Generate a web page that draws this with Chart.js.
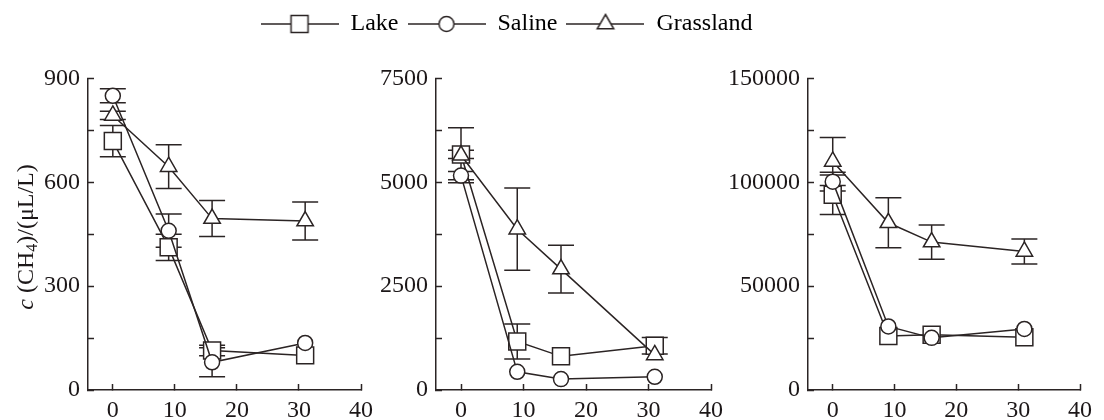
<!DOCTYPE html>
<html>
<head>
<meta charset="utf-8">
<script src="https://cdn.jsdelivr.net/npm/chart.js@4.4.1/dist/chart.umd.min.js"></script>
<style>
  html, body { margin: 0; padding: 0; background: #fff; }
  #wrap { position: relative; width: 1104px; height: 420px; overflow: hidden; }
  .box { position: absolute; }
</style>
</head>
<body>
<div id="wrap">
  <div class="box" style="left:0;top:50px;width:385px;height:370px"><canvas id="p1"></canvas></div>
  <div class="box" style="left:370px;top:50px;width:365px;height:370px"><canvas id="p2"></canvas></div>
  <div class="box" style="left:722px;top:50px;width:382px;height:370px"><canvas id="p3"></canvas></div>
  <div class="box" style="left:0;top:0;width:1013px;height:110px"><canvas id="leg"></canvas></div>
</div>
<script>
// sampling days (x)
const days = [0, 9, 16, 31]
const xTicks = [0, 10, 20, 30, 40]
const seriesNames = ['Lake', 'Saline', 'Grassland']

// left panel
const lake1 = [719, 412, 114, 100]
const lakeErr1 = [45, 38, 15, 0]
const saline1 = [850, 460, 80, 136]
const salineErr1 = [20, 48, 42, 0]
const grass1 = [793, 645, 495, 488]
const grassErr1 = [12, 63, 52, 55]
const yTicks1 = [0, 150, 300, 450, 600, 750, 900]
const yLabels1 = [0, 300, 600, 900]

// middle panel
const lake2 = [5670, 1167, 810, 1064]
const lakeErr2 = [100, 420, 0, 200]
const saline2 = [5160, 437, 262, 317]
const salineErr2 = [100, 0, 0, 0]
const grass2 = [5650, 3870, 2910, 845]
const grassErr2 = [660, 990, 575, 0]
const yTicks2 = [0, 1250, 2500, 3750, 5000, 6250, 7500]
const yLabels2 = [0, 2500, 5000, 7500]

// right panel
const lake3 = [94000, 26000, 26600, 25400]
const lakeErr3 = [9500, 0, 0, 0]
const saline3 = [100300, 30600, 25100, 29400]
const salineErr3 = [4500, 0, 0, 0]
const grass3 = [110000, 80500, 71200, 66700]
const grassErr3 = [11500, 12000, 8200, 6000]
const yTicks3 = [0, 25000, 50000, 75000, 100000, 125000, 150000]
const yLabels3 = [0, 50000, 100000, 150000]

const ink = '#2b2424'
const textInk = '#1c1718'
const serif = "'Liberation Serif', 'Times New Roman', serif"

Chart.defaults.font.family = serif
Chart.defaults.font.size = 24
Chart.defaults.color = textInk

const markers = [
  { style: 'rect', radius: 12, order: 2 },
  { style: 'circle', radius: 7.5, order: 1 },
  { style: 'triangle', radius: 9.5, order: 0 }
]

// error bars drawn under the markers
const errorBars = {
  id: 'errorBars',
  beforeDatasetsDraw(chart) {
    const ctx = chart.ctx
    const xs = chart.scales.x
    const ys = chart.scales.y
    ctx.save()
    ctx.strokeStyle = ink
    ctx.lineWidth = 1.5
    chart.data.datasets.forEach(ds => {
      if (!ds.errors) return
      ds.data.forEach((p, i) => {
        const e = ds.errors[i]
        if (!e) return
        const px = xs.getPixelForValue(p.x)
        const top = ys.getPixelForValue(p.y + e)
        const bot = ys.getPixelForValue(p.y - e)
        ctx.beginPath()
        ctx.moveTo(px, top); ctx.lineTo(px, bot)
        ctx.moveTo(px - 13, top); ctx.lineTo(px + 13, top)
        ctx.moveTo(px - 13, bot); ctx.lineTo(px + 13, bot)
        ctx.stroke()
      })
    })
    ctx.restore()
  }
}

// y title with italic c and subscript 4
const yTitle = {
  id: 'yTitle',
  afterDraw(chart) {
    const ctx = chart.ctx
    const parts = [
      { t: 'c', font: 'italic 24px ' + serif, dy: 0 },
      { t: ' (CH', font: '24px ' + serif, dy: 0 },
      { t: '4', font: '16px ' + serif, dy: 6 },
      { t: ')/(μL/L)', font: '24px ' + serif, dy: 0 }
    ]
    ctx.save()
    let total = 0
    parts.forEach(p => { ctx.font = p.font; p.w = ctx.measureText(p.t).width; total += p.w })
    ctx.translate(27, 237 - 50)
    ctx.rotate(-Math.PI / 2)
    ctx.fillStyle = textInk
    ctx.textBaseline = 'middle'
    ctx.textAlign = 'left'
    let x = -total / 2
    parts.forEach(p => {
      ctx.font = p.font
      ctx.fillText(p.t, x, p.dy)
      x += p.w
    })
    ctx.restore()
  }
}

function makeDatasets(values, errs) {
  return values.map((vals, k) => ({
    label: seriesNames[k],
    data: days.map((d, i) => ({ x: d, y: vals[i] })),
    errors: errs[k],
    order: markers[k].order,
    borderColor: ink,
    borderWidth: 1.5,
    pointStyle: markers[k].style,
    pointRadius: markers[k].radius,
    pointBackgroundColor: '#fff',
    pointBorderColor: ink,
    pointBorderWidth: 1.5,
    tension: 0
  }))
}

function makePanel(id, values, errs, yTicks, yLabels, yWidth, padRight, extraPlugins) {
  const yMax = yTicks[yTicks.length - 1]
  return new Chart(document.getElementById(id), {
    type: 'line',
    data: { datasets: makeDatasets(values, errs) },
    options: {
      animation: false,
      responsive: true,
      maintainAspectRatio: false,
      layout: { padding: { top: 25, right: padRight, bottom: 0, left: 0 } },
      plugins: { legend: { display: false }, tooltip: { enabled: false } },
      scales: {
        x: {
          type: 'linear',
          min: -4,
          max: 40,
          afterBuildTicks: s => { s.ticks = xTicks.map(v => ({ value: v })) },
          afterFit: s => { s.height = 30 },
          grid: { drawOnChartArea: false, tickLength: -6, tickColor: ink, tickWidth: 1.5 },
          border: { color: ink, width: 1.5 },
          ticks: { padding: 12, maxRotation: 0, autoSkip: false, color: textInk }
        },
        y: {
          type: 'linear',
          min: 0,
          max: yMax,
          afterBuildTicks: s => { s.ticks = yTicks.map(v => ({ value: v })) },
          afterFit: s => { s.width = yWidth },
          grid: { drawOnChartArea: false, tickLength: -6, tickColor: ink, tickWidth: 1.5 },
          border: { color: ink, width: 1.5 },
          ticks: {
            padding: 14,
            autoSkip: false,
            color: textInk,
            callback: v => yLabels.includes(v) ? String(v) : ''
          }
        }
      }
    },
    plugins: [errorBars].concat(extraPlugins || [])
  })
}

// legend icons: short line with the marker in the middle
function legendIcon(style) {
  const c = document.createElement('canvas')
  c.width = 78
  c.height = 22
  const g = c.getContext('2d')
  g.strokeStyle = ink
  g.lineWidth = 1.5
  g.beginPath(); g.moveTo(0, 11); g.lineTo(78, 11); g.stroke()
  g.fillStyle = '#fff'
  g.beginPath()
  if (style === 'rect') {
    g.rect(39 - 8.5, 11 - 8.5, 17, 17)
  } else if (style === 'circle') {
    g.arc(39, 11, 7.5, 0, Math.PI * 2)
  } else {
    g.moveTo(39, 11 - 9.5)
    g.lineTo(39 + 8.23, 11 + 4.75)
    g.lineTo(39 - 8.23, 11 + 4.75)
    g.closePath()
  }
  g.fill()
  g.stroke()
  return c
}

function build() {
  makePanel('p1', [lake1, saline1, grass1], [lakeErr1, salineErr1, grassErr1], yTicks1, yLabels1, 88, 18, [yTitle])
  makePanel('p2', [lake2, saline2, grass2], [lakeErr2, salineErr2, grassErr2], yTicks2, yLabels2, 66, 20)
  makePanel('p3', [lake3, saline3, grass3], [lakeErr3, salineErr3, grassErr3], yTicks3, yLabels3, 86, 17)

  const icons = markers.map(m => legendIcon(m.style))

  new Chart(document.getElementById('leg'), {
    type: 'line',
    data: { datasets: seriesNames.map(n => ({ label: n, data: [] })) },
    options: {
      animation: false,
      responsive: true,
      maintainAspectRatio: false,
      layout: { padding: { top: 3 } },
      scales: { x: { display: false }, y: { display: false } },
      plugins: {
        tooltip: { enabled: false },
        legend: {
          display: true,
          position: 'top',
          align: 'center',
          onClick: null,
          labels: {
            usePointStyle: true,
            pointStyleWidth: 78,
            padding: 9,
            color: textInk,
            font: { family: serif, size: 24 },
            generateLabels: () => seriesNames.map((n, i) => ({
              text: n,
              pointStyle: icons[i],
              fillStyle: '#fff',
              strokeStyle: ink,
              lineWidth: 0,
              hidden: false,
              datasetIndex: i
            }))
          }
        }
      }
    }
  })
}

if (document.fonts && document.fonts.load) {
  Promise.all([
    document.fonts.load("24px 'Liberation Serif'"),
    document.fonts.load("italic 24px 'Liberation Serif'")
  ]).then(build, build)
} else {
  build()
}
</script>
</body>
</html>
